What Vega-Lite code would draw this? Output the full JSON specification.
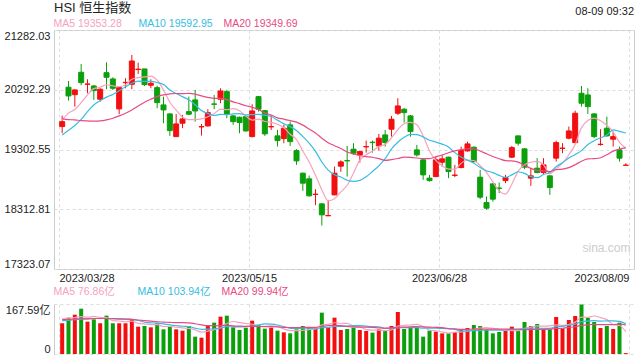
{
  "$schema": "https://vega.github.io/schema/vega-lite/v6.json",
  "padding": {"left": 3, "right": 5, "top": 1, "bottom": 2},
  "config": {
    "font": "Liberation Sans",
    "view": {"stroke": "#cccccc"},
    "axis": {"labelFontSize": 11, "labelColor": "#222222", "gridColor": "#dddddd", "gridDash": [3, 3], "ticks": false, "domain": false, "labelOverlap": false, "labelFont": "Liberation Sans"},
    "legend": {"labelFont": "Liberation Sans, Noto Sans CJK SC", "titleFont": "Liberation Sans, Noto Sans CJK SC"}
  },
  "resolve": {"scale": {"color": "independent", "x": "independent", "y": "independent"}, "legend": {"color": "independent"}},
  "datasets": {
    "k": [
      {"i":0,"o":19682,"h":19864,"l":19572,"c":19764,"v":103,"m5":19790,"m10":19544,"m20":19809,"vm5":118,"vm10":112,"vm20":115},
      {"i":1,"o":20334,"h":20438,"l":20112,"c":20190,"v":121.8,"m5":19905,"m10":19620,"m20":19798,"vm5":120,"vm10":113,"vm20":116},
      {"i":2,"o":20211,"h":20301,"l":20013,"c":20289,"v":131.8,"m5":19965,"m10":19700,"m20":19793,"vm5":122,"vm10":115,"vm20":117},
      {"i":3,"o":20582,"h":20719,"l":20367,"c":20410,"v":151.9,"m5":20080,"m10":19800,"m20":19781,"vm5":125,"vm10":117,"vm20":118},
      {"i":4,"o":20383,"h":20466,"l":20234,"c":20388,"v":108.4,"m5":20208,"m10":19930,"m20":19776,"vm5":123.4,"vm10":118,"vm20":118},
      {"i":5,"o":20355,"h":20372,"l":20124,"c":20277,"v":116.2,"m5":20311,"m10":20040,"m20":19771,"vm5":126,"vm10":119,"vm20":119},
      {"i":6,"o":20135,"h":20317,"l":20095,"c":20301,"v":103,"m5":20333,"m10":20110,"m20":19776,"vm5":122.3,"vm10":119,"vm20":119},
      {"i":7,"o":20575,"h":20747,"l":20301,"c":20499,"v":128.5,"m5":20375,"m10":20170,"m20":19793,"vm5":121.6,"vm10":119,"vm20":119},
      {"i":8,"o":20471,"h":20499,"l":20289,"c":20317,"v":103,"m5":20357,"m10":20215,"m20":19821,"vm5":111.8,"vm10":118,"vm20":119},
      {"i":9,"o":19975,"h":20334,"l":19887,"c":20327,"v":103,"m5":20344,"m10":20276,"m20":19859,"vm5":110.7,"vm10":117.1,"vm20":118},
      {"i":10,"o":20410,"h":20483,"l":20317,"c":20416,"v":103,"m5":20372,"m10":20342,"m20":19903,"vm5":108.1,"vm10":117.1,"vm20":117},
      {"i":11,"o":20383,"h":20868,"l":20301,"c":20769,"v":114,"m5":20466,"m10":20399,"m20":19958,"vm5":110.3,"vm10":116.3,"vm20":116},
      {"i":12,"o":20628,"h":20741,"l":20554,"c":20633,"v":91.6,"m5":20493,"m10":20434,"m20":20024,"vm5":102.9,"vm10":112.3,"vm20":114},
      {"i":13,"o":20637,"h":20637,"l":20355,"c":20377,"v":93.9,"m5":20505,"m10":20431,"m20":20085,"vm5":101.1,"vm10":106.5,"vm20":112},
      {"i":14,"o":20367,"h":20466,"l":20317,"c":20400,"v":89.4,"m5":20519,"m10":20432,"m20":20135,"vm5":98.4,"vm10":104.6,"vm20":110},
      {"i":15,"o":20327,"h":20360,"l":19986,"c":20079,"v":103,"m5":20452,"m10":20412,"m20":20178,"vm5":98.4,"vm10":103.2,"vm20":108},
      {"i":16,"o":20041,"h":20178,"l":19738,"c":19958,"v":82.7,"m5":20289,"m10":20378,"m20":20206,"vm5":92.1,"vm10":101.2,"vm20":107},
      {"i":17,"o":19892,"h":19903,"l":19528,"c":19615,"v":91.6,"m5":20086,"m10":20289,"m20":20225,"vm5":92.1,"vm10":97.5,"vm20":106},
      {"i":18,"o":19516,"h":19892,"l":19516,"c":19726,"v":82.7,"m5":19956,"m10":20230,"m20":20230,"vm5":89.9,"vm10":95.5,"vm20":105},
      {"i":19,"o":19738,"h":19875,"l":19655,"c":19809,"v":78.2,"m5":19838,"m10":20178,"m20":20227,"vm5":87.6,"vm10":93,"vm20":105.1},
      {"i":20,"o":19930,"h":20178,"l":19875,"c":19887,"v":93.9,"m5":19799,"m10":20125,"m20":20233,"vm5":85.8,"vm10":92.1,"vm20":104.6},
      {"i":21,"o":20124,"h":20289,"l":19764,"c":19941,"v":58.1,"m5":19796,"m10":20043,"m20":20221,"vm5":80.9,"vm10":86.5,"vm20":101.4},
      {"i":22,"o":19677,"h":19726,"l":19533,"c":19682,"v":54.7,"m5":19809,"m10":19947,"m20":20191,"vm5":73.5,"vm10":82.8,"vm20":97.6},
      {"i":23,"o":19693,"h":19970,"l":19682,"c":19913,"v":97.2,"m5":19846,"m10":19901,"m20":20166,"vm5":76.4,"vm10":83.2,"vm20":94.9},
      {"i":24,"o":20057,"h":20206,"l":19970,"c":20052,"v":105,"m5":19895,"m10":19866,"m20":20149,"vm5":81.8,"vm10":84.7,"vm20":94.7},
      {"i":25,"o":20135,"h":20317,"l":20069,"c":20272,"v":125.1,"m5":19972,"m10":19886,"m20":20149,"vm5":88,"vm10":86.9,"vm20":95.1},
      {"i":26,"o":20261,"h":20289,"l":19821,"c":19887,"v":128.5,"m5":19961,"m10":19879,"m20":20128,"vm5":102.1,"vm10":91.5,"vm20":96.4},
      {"i":27,"o":19859,"h":19875,"l":19710,"c":19764,"v":89.4,"m5":19978,"m10":19893,"m20":20091,"vm5":109,"vm10":91.3,"vm20":94.4},
      {"i":28,"o":19837,"h":19847,"l":19572,"c":19748,"v":80.4,"m5":19945,"m10":19896,"m20":20063,"vm5":105.7,"vm10":91.1,"vm20":93.3},
      {"i":29,"o":19847,"h":19859,"l":19599,"c":19610,"v":88.3,"m5":19856,"m10":19876,"m20":20027,"vm5":102.3,"vm10":92.1,"vm20":92.6},
      {"i":30,"o":19516,"h":20052,"l":19506,"c":19941,"v":111.7,"m5":19790,"m10":19881,"m20":20003,"vm5":99.7,"vm10":93.8,"vm20":93},
      {"i":31,"o":20178,"h":20190,"l":19930,"c":19970,"v":97.2,"m5":19807,"m10":19884,"m20":19963,"vm5":93.4,"vm10":97.8,"vm20":92.2},
      {"i":32,"o":19946,"h":19958,"l":19528,"c":19561,"v":84.9,"m5":19766,"m10":19872,"m20":19910,"vm5":92.5,"vm10":100.8,"vm20":91.8},
      {"i":33,"o":19677,"h":19875,"l":19627,"c":19682,"v":88.3,"m5":19753,"m10":19849,"m20":19875,"vm5":94.1,"vm10":99.9,"vm20":91.6},
      {"i":34,"o":19528,"h":19627,"l":19351,"c":19450,"v":78.2,"m5":19721,"m10":19789,"m20":19827,"vm5":92.1,"vm10":97.2,"vm20":91},
      {"i":35,"o":19483,"h":19710,"l":19407,"c":19655,"v":72.6,"m5":19663,"m10":19727,"m20":19806,"vm5":84.2,"vm10":92,"vm20":89.5},
      {"i":36,"o":19710,"h":19764,"l":19362,"c":19433,"v":69.2,"m5":19556,"m10":19681,"m20":19780,"vm5":78.6,"vm10":86,"vm20":88.8},
      {"i":37,"o":19284,"h":19308,"l":19048,"c":19114,"v":82.7,"m5":19467,"m10":19616,"m20":19755,"vm5":78.2,"vm10":85.4,"vm20":88.4},
      {"i":38,"o":18910,"h":18920,"l":18617,"c":18745,"v":93.9,"m5":19279,"m10":19516,"m20":19706,"vm5":79.3,"vm10":86.7,"vm20":88.9},
      {"i":39,"o":18816,"h":18871,"l":18523,"c":18535,"v":89.4,"m5":19096,"m10":19409,"m20":19642,"vm5":81.6,"vm10":86.8,"vm20":89.5},
      {"i":40,"o":18558,"h":18646,"l":18381,"c":18563,"v":84.9,"m5":18878,"m10":19271,"m20":19576,"vm5":84,"vm10":84.1,"vm20":89},
      {"i":41,"o":18402,"h":18414,"l":18043,"c":18220,"v":138.6,"m5":18635,"m10":19096,"m20":19490,"vm5":97.9,"vm10":88.3,"vm20":93.1},
      {"i":42,"o":18204,"h":18457,"l":18204,"c":18209,"v":89.4,"m5":18454,"m10":18961,"m20":19416,"vm5":99.2,"vm10":88.7,"vm20":94.8},
      {"i":43,"o":18551,"h":19020,"l":18546,"c":18910,"v":121.8,"m5":18487,"m10":18883,"m20":19366,"vm5":104.8,"vm10":92.1,"vm20":96},
      {"i":44,"o":19026,"h":19122,"l":18932,"c":19097,"v":80.4,"m5":18600,"m10":18848,"m20":19318,"vm5":103,"vm10":92.3,"vm20":94.8},
      {"i":45,"o":19119,"h":19362,"l":18854,"c":19114,"v":83.8,"m5":18710,"m10":18794,"m20":19260,"vm5":102.8,"vm10":93.4,"vm20":92.7},
      {"i":46,"o":19308,"h":19407,"l":19213,"c":19241,"v":88.3,"m5":18914,"m10":18775,"m20":19228,"vm5":92.7,"vm10":95.3,"vm20":90.7},
      {"i":47,"o":19213,"h":19284,"l":19086,"c":19268,"v":80.4,"m5":19126,"m10":18790,"m20":19203,"vm5":90.9,"vm10":95.1,"vm20":90.3},
      {"i":48,"o":19346,"h":19450,"l":19251,"c":19351,"v":77.1,"m5":19214,"m10":18851,"m20":19184,"vm5":82,"vm10":93.4,"vm20":90.1},
      {"i":49,"o":19423,"h":19450,"l":19251,"c":19417,"v":71.5,"m5":19278,"m10":18939,"m20":19174,"vm5":80.2,"vm10":91.6,"vm20":89.2},
      {"i":50,"o":19362,"h":19561,"l":19284,"c":19490,"v":82.7,"m5":19353,"m10":19032,"m20":19151,"vm5":80,"vm10":91.4,"vm20":87.8},
      {"i":51,"o":19544,"h":19627,"l":19351,"c":19417,"v":78.2,"m5":19388,"m10":19151,"m20":19124,"vm5":78,"vm10":85.4,"vm20":86.9},
      {"i":52,"o":19639,"h":19859,"l":19516,"c":19804,"v":93.9,"m5":19496,"m10":19311,"m20":19136,"vm5":80.7,"vm10":85.8,"vm20":87.3},
      {"i":53,"o":19903,"h":20152,"l":19875,"c":20024,"v":140.8,"m5":19630,"m10":19422,"m20":19153,"vm5":93.4,"vm10":87.7,"vm20":89.9},
      {"i":54,"o":19970,"h":19991,"l":19748,"c":19913,"v":83.8,"m5":19730,"m10":19504,"m20":19176,"vm5":95.9,"vm10":88.1,"vm20":90.2},
      {"i":55,"o":19859,"h":19875,"l":19516,"c":19599,"v":89.4,"m5":19752,"m10":19552,"m20":19173,"vm5":97.2,"vm10":88.6,"vm20":91},
      {"i":56,"o":19296,"h":19379,"l":19185,"c":19213,"v":89.4,"m5":19711,"m10":19550,"m20":19162,"vm5":99.5,"vm10":88.7,"vm20":92},
      {"i":57,"o":19131,"h":19142,"l":18800,"c":18882,"v":58.1,"m5":19526,"m10":19511,"m20":19151,"vm5":92.3,"vm10":86.5,"vm20":90.8},
      {"i":58,"o":18828,"h":18882,"l":18771,"c":18788,"v":78.2,"m5":19279,"m10":19455,"m20":19153,"vm5":79.8,"vm10":86.6,"vm20":90},
      {"i":59,"o":18854,"h":19185,"l":18844,"c":19131,"v":74.9,"m5":19123,"m10":19426,"m20":19183,"vm5":78,"vm10":86.9,"vm20":89.3},
      {"i":60,"o":19092,"h":19213,"l":19020,"c":19147,"v":69.2,"m5":19032,"m10":19392,"m20":19212,"vm5":74,"vm10":85.6,"vm20":88.5},
      {"i":61,"o":19175,"h":19185,"l":18828,"c":18937,"v":69.2,"m5":18977,"m10":19344,"m20":19248,"vm5":69.9,"vm10":84.7,"vm20":85.1},
      {"i":62,"o":18874,"h":19048,"l":18844,"c":18879,"v":73.7,"m5":18976,"m10":19251,"m20":19281,"vm5":73,"vm10":82.7,"vm20":84.3},
      {"i":63,"o":19003,"h":19351,"l":18993,"c":19284,"v":82.7,"m5":19076,"m10":19177,"m20":19300,"vm5":73.9,"vm10":76.9,"vm20":82.3},
      {"i":64,"o":19279,"h":19433,"l":19268,"c":19395,"v":87.2,"m5":19129,"m10":19126,"m20":19315,"vm5":76.4,"vm10":77.2,"vm20":82.7},
      {"i":65,"o":19341,"h":19351,"l":19086,"c":19102,"v":97.2,"m5":19120,"m10":19076,"m20":19314,"vm5":82,"vm10":78,"vm20":83.3},
      {"i":66,"o":18844,"h":18965,"l":18480,"c":18513,"v":93.9,"m5":19035,"m10":19006,"m20":19278,"vm5":86.9,"vm10":78.4,"vm20":83.6},
      {"i":67,"o":18424,"h":18523,"l":18303,"c":18331,"v":80.4,"m5":18925,"m10":18951,"m20":19231,"vm5":88.3,"vm10":80.7,"vm20":83.6},
      {"i":68,"o":18733,"h":18745,"l":18440,"c":18480,"v":69.2,"m5":18764,"m10":18920,"m20":19187,"vm5":85.6,"vm10":79.8,"vm20":83.2},
      {"i":69,"o":18664,"h":18755,"l":18579,"c":18659,"v":73.7,"m5":18617,"m10":18873,"m20":19150,"vm5":82.9,"vm10":79.6,"vm20":83.3},
      {"i":70,"o":18788,"h":18882,"l":18745,"c":18838,"v":78.2,"m5":18564,"m10":18842,"m20":19117,"vm5":79.1,"vm10":80.5,"vm20":83.1},
      {"i":71,"o":19175,"h":19362,"l":19159,"c":19334,"v":91.6,"m5":18728,"m10":18882,"m20":19113,"vm5":78.6,"vm10":82.8,"vm20":83.8},
      {"i":72,"o":19528,"h":19528,"l":19367,"c":19407,"v":78.2,"m5":18944,"m10":18934,"m20":19093,"vm5":78.2,"vm10":83.2,"vm20":83},
      {"i":73,"o":19313,"h":19324,"l":18977,"c":19010,"v":107.3,"m5":19049,"m10":18907,"m20":19042,"vm5":85.8,"vm10":85.7,"vm20":81.3},
      {"i":74,"o":18828,"h":18993,"l":18700,"c":18866,"v":93.9,"m5":19091,"m10":18854,"m20":18990,"vm5":89.8,"vm10":86.4,"vm20":81.8},
      {"i":75,"o":18993,"h":19159,"l":18910,"c":18920,"v":100.6,"m5":19107,"m10":18836,"m20":18956,"vm5":94.3,"vm10":86.7,"vm20":82.4},
      {"i":76,"o":18920,"h":19159,"l":18899,"c":19048,"v":86.1,"m5":19050,"m10":18889,"m20":18948,"vm5":93.2,"vm10":85.9,"vm20":82.2},
      {"i":77,"o":18866,"h":18882,"l":18551,"c":18672,"v":82.7,"m5":18903,"m10":18923,"m20":18937,"vm5":94.1,"vm10":86.2,"vm20":83.5},
      {"i":78,"o":19159,"h":19450,"l":19102,"c":19417,"v":124,"m5":18985,"m10":19017,"m20":18969,"vm5":97.5,"vm10":91.6,"vm20":85.7},
      {"i":79,"o":19321,"h":19407,"l":19241,"c":19326,"v":86.1,"m5":19077,"m10":19084,"m20":18978,"vm5":95.9,"vm10":92.9,"vm20":86.3},
      {"i":80,"o":19490,"h":19682,"l":19473,"c":19610,"v":114,"m5":19215,"m10":19161,"m20":19002,"vm5":98.6,"vm10":96.5,"vm20":88.5},
      {"i":81,"o":19417,"h":19946,"l":19407,"c":19903,"v":127.4,"m5":19386,"m10":19218,"m20":19050,"vm5":106.8,"vm10":100,"vm20":91.4},
      {"i":82,"o":20234,"h":20355,"l":20013,"c":20069,"v":166,"m5":19665,"m10":19284,"m20":19109,"vm5":123.5,"vm10":108.8,"vm20":96},
      {"i":83,"o":20206,"h":20317,"l":19892,"c":20013,"v":121.8,"m5":19784,"m10":19384,"m20":19146,"vm5":123.1,"vm10":110.3,"vm20":98},
      {"i":84,"o":19892,"h":19903,"l":19490,"c":19516,"v":107.3,"m5":19822,"m10":19449,"m20":19152,"vm5":127.3,"vm10":111.6,"vm20":99},
      {"i":85,"o":19385,"h":19639,"l":19367,"c":19390,"v":87.2,"m5":19778,"m10":19496,"m20":19166,"vm5":121.9,"vm10":110.3,"vm20":98.5},
      {"i":86,"o":19655,"h":19847,"l":19516,"c":19528,"v":93.9,"m5":19703,"m10":19544,"m20":19217,"vm5":115.2,"vm10":111,"vm20":98.5},
      {"i":87,"o":19473,"h":19599,"l":19351,"c":19516,"v":83.8,"m5":19593,"m10":19629,"m20":19276,"vm5":98.8,"vm10":111.2,"vm20":98.7},
      {"i":88,"o":19296,"h":19351,"l":19102,"c":19159,"v":105,"m5":19422,"m10":19603,"m20":19310,"vm5":95.4,"vm10":109.3,"vm20":100.5},
      {"i":89,"o":19040,"h":19076,"l":19031,"c":19043,"v":3,"m5":19327,"m10":19575,"m20":19329,"vm5":74.6,"vm10":100.9,"vm20":96.9}
    ]
  },
  "spacing": 3,
  "vconcat": [
    {
      "width": 580,
      "height": 239,
      "data": {"name": "k"},
      "title": {"text": "08-09 09:32", "anchor": "end", "frame": "group", "fontSize": 11, "fontWeight": "normal", "color": "#222222", "offset": 0, "dy": 15, "font": "Liberation Sans"},
      "layer": [
        {
          "mark": {"type": "rule", "strokeWidth": 1},
          "encoding": {
            "x": {"field": "i", "type": "quantitative", "scale": {"domain": [-0.5, 89.5], "nice": false, "zero": false},
              "axis": {"values": [-0.5, 29.5, 59.5, 89.5], "labelExpr": "datum.value < 0 ? '2023/03/28' : datum.value < 30 ? '2023/05/15' : datum.value < 60 ? '2023/06/28' : '2023/08/09'", "labelFlush": 5, "labelPadding": 3, "grid": true,
                "labelAlign": {"condition": [{"test": "datum.value < 0", "value": "left"}, {"test": "datum.value > 89", "value": "right"}], "value": "center"},
                "title": "sina.com", "titleX": 576, "titleY": -18, "titleAlign": "right", "titleBaseline": "alphabetic", "titleFontSize": 12, "titleFontWeight": "normal", "titleColor": "#cccccc"}},
            "y": {"field": "l", "type": "quantitative", "scale": {"domain": [17323.07, 21282.03], "nice": false, "zero": false},
              "axis": {"values": [17323.07, 18312.81, 19302.55, 20292.29, 21282.03], "format": ".2f", "labelFlush": true, "labelPadding": 4, "title": null}},
            "y2": {"field": "h"},
            "color": {"condition": {"test": "datum.c >= datum.o", "value": "#f20f0f"}, "value": "#0c9f0c"}
          }
        },
        {
          "mark": {"type": "bar", "size": 5, "strokeWidth": 1},
          "encoding": {
            "x": {"field": "i", "type": "quantitative"},
            "y": {"field": "o", "type": "quantitative"},
            "y2": {"field": "c"},
            "color": {"condition": {"test": "datum.c >= datum.o", "value": "#f20f0f"}, "value": "#0c9f0c"},
            "stroke": {"condition": {"test": "datum.c >= datum.o", "value": "#f20f0f"}, "value": "#0c9f0c"}
          }
        },
        {
          "transform": [{"fold": ["m5", "m10", "m20"], "as": ["ma", "val"]}],
          "mark": {"type": "line", "strokeWidth": 1.2, "interpolate": "monotone"},
          "encoding": {
            "x": {"field": "i", "type": "quantitative"},
            "y": {"field": "val", "type": "quantitative"},
            "color": {"field": "ma", "type": "nominal",
              "scale": {"domain": ["m5", "m10", "m20"], "range": ["#f7a1bd", "#36bde0", "#e84a84"]},
              "legend": {"orient": "top", "direction": "horizontal", "gridAlign": "all", "title": "HSI 恒生指数", "titleFontSize": 13, "titleFontWeight": "normal", "titleColor": "#222222", "titlePadding": 4,
                "labelExpr": "datum.value == 'm5' ? 'MA5 19353.28' : datum.value == 'm10' ? 'MA10 19592.95' : 'MA20 19349.69'",
                "labelFontSize": 10.5, "symbolSize": 0, "symbolStrokeWidth": 0, "labelOffset": -11, "columnPadding": 10, "offset": 0, "padding": 0,
                "encode": {"labels": {"update": {"fill": [{"test": "datum.value == 'm5'", "value": "#f7a1bd"}, {"test": "datum.value == 'm10'", "value": "#36bde0"}, {"value": "#e84a84"}]}}}}
            }
          }
        }
      ]
    },
    {
      "width": 580,
      "height": 50,
      "data": {"name": "k"},
      "view": {"stroke": null},
      "layer": [
        {
          "mark": {"type": "bar", "size": 4},
          "encoding": {
            "x": {"field": "i", "type": "quantitative", "scale": {"domain": [-0.5, 89.5], "nice": false, "zero": false},
              "axis": {"values": [-0.5, 29.5, 59.5, 89.5], "labels": false, "grid": true, "title": null}},
            "y": {"field": "v", "type": "quantitative", "scale": {"domain": [0, 167.59], "nice": false},
              "axis": {"values": [0, 167.59], "labelExpr": "datum.value == 0 ? '0' : '167.59亿'", "labelFlush": true, "labelPadding": 4, "domain": true, "domainColor": "#cccccc", "title": null, "labelFont": "Liberation Sans, Noto Sans CJK SC"}},
            "color": {"condition": {"test": "datum.c >= datum.o", "value": "#f20f0f"}, "value": "#0c9f0c"}
          }
        },
        {
          "transform": [{"fold": ["vm5", "vm10", "vm20"], "as": ["ma", "val"]}],
          "mark": {"type": "line", "strokeWidth": 1.2, "interpolate": "monotone"},
          "encoding": {
            "x": {"field": "i", "type": "quantitative"},
            "y": {"field": "val", "type": "quantitative"},
            "color": {"field": "ma", "type": "nominal",
              "scale": {"domain": ["vm5", "vm10", "vm20"], "range": ["#f7a1bd", "#36bde0", "#e84a84"]},
              "legend": {"orient": "top", "direction": "horizontal", "gridAlign": "all", "title": null,
                "labelExpr": "datum.value == 'vm5' ? 'MA5 76.86亿' : datum.value == 'vm10' ? 'MA10 103.94亿' : 'MA20 99.94亿'",
                "labelFontSize": 10.5, "symbolSize": 0, "symbolStrokeWidth": 0, "labelOffset": -11, "columnPadding": 10, "offset": 6, "padding": 0,
                "encode": {"labels": {"update": {"fill": [{"test": "datum.value == 'vm5'", "value": "#f7a1bd"}, {"test": "datum.value == 'vm10'", "value": "#36bde0"}, {"value": "#e84a84"}]}}}}
            }
          }
        }
      ]
    }
  ]
}
